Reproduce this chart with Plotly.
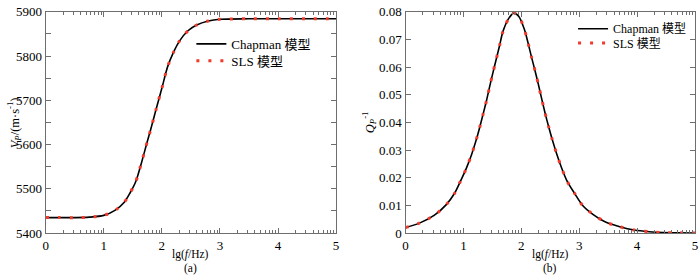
import plotly.graph_objects as go
import math

# ---------------- data ----------------
# (a) P-wave velocity vs lg(f/Hz)
lgf_a = [0.0, 0.25, 0.5, 0.75, 1.0, 1.2, 1.35, 1.45, 1.55, 1.65, 1.75, 1.8, 1.9,
         2.0, 2.1, 2.2, 2.3, 2.45, 2.6, 2.8, 3.0, 3.5, 4.0, 4.5, 5.0]
vp_chapman = [5435, 5435, 5435, 5436, 5440, 5452, 5469, 5490, 5516, 5559, 5607, 5630, 5679,
              5727, 5776, 5808, 5833, 5857, 5870, 5879, 5883, 5884, 5884, 5884, 5884]
vp_sls = [5435, 5435, 5435, 5436, 5440, 5452, 5469, 5490, 5516, 5559, 5607, 5630, 5679,
          5727, 5776, 5808, 5833, 5857, 5870, 5879, 5883, 5884, 5884, 5884, 5884]

# (b) inverse quality factor vs lg(f/Hz)
lgf_b = [0.0, 0.25, 0.5, 0.7, 0.85, 0.95, 1.05, 1.14, 1.21, 1.28, 1.34, 1.40, 1.455, 1.51,
         1.57, 1.627, 1.683, 1.786, 1.87, 1.957, 2.055, 2.118, 2.175, 2.238, 2.295, 2.351,
         2.409, 2.471, 2.534, 2.61, 2.69, 2.786, 2.916, 3.06, 3.236, 3.454, 3.7, 3.95,
         4.21, 4.45, 4.7, 5.0]
q_chapman = [0.0020, 0.0037, 0.0065, 0.0102, 0.0145, 0.0188, 0.0234, 0.0283, 0.0329, 0.0381,
             0.0430, 0.0480, 0.0531, 0.0580, 0.0631, 0.0680, 0.0729, 0.0777, 0.0795, 0.0783,
             0.0735, 0.0686, 0.0637, 0.0586, 0.0537, 0.0486, 0.0435, 0.0385, 0.0338, 0.0287,
             0.0239, 0.0190, 0.0145, 0.0100, 0.0068, 0.0040, 0.0023, 0.0011, 0.0005, 0.0002,
             0.0001, 0.00005]
q_sls = list(q_chapman)

x_ticks = [0, 1, 2, 3, 4, 5]
vp_ticks = [5400, 5500, 5600, 5700, 5800, 5900]
q_ticks = [0, 0.01, 0.02, 0.03, 0.04, 0.05, 0.06, 0.07, 0.08]
q_ticklabels = ["0", "0.01", "0.02", "0.03", "0.04", "0.05", "0.06", "0.07", "0.08"]

# ---------------- layout helpers ----------------
W, H = 700, 278
def px_x(p):
    return p / W
def px_y(p):
    return 1 - p / H

FONT = "Liberation Serif, Noto Sans CJK SC, serif"
RED = "#f03a2a"
AX = "#6e6e6e"

minor_x = [d + math.log10(k) for d in range(5) for k in range(2, 10)]

fig = go.Figure()

fig.add_trace(go.Scatter(x=lgf_a, y=vp_chapman, mode="lines", name="Chapman 模型",
                         line=dict(color="black", width=1.6, shape="spline", smoothing=0.8),
                         xaxis="x", yaxis="y", legend="legend"))
fig.add_trace(go.Scatter(x=lgf_a, y=vp_sls, mode="lines", name="SLS 模型",
                         line=dict(color=RED, width=3, dash="3px,9px", shape="spline", smoothing=0.8),
                         xaxis="x", yaxis="y", legend="legend2"))
fig.add_trace(go.Scatter(x=lgf_b, y=q_chapman, mode="lines", name="Chapman 模型",
                         line=dict(color="black", width=1.6, shape="spline", smoothing=0.8),
                         xaxis="x2", yaxis="y2", legend="legend3"))
fig.add_trace(go.Scatter(x=lgf_b, y=q_sls, mode="lines", name="SLS 模型",
                         line=dict(color=RED, width=3, dash="3px,9px", shape="spline", smoothing=0.8),
                         xaxis="x2", yaxis="y2", legend="legend4"))

common_axis = dict(showline=True, linecolor=AX, linewidth=1.2, mirror="ticks",
                   ticks="inside", ticklen=5, tickcolor=AX, tickwidth=1,
                   showgrid=False, zeroline=False, ticklabeloverflow="allow",
                   tickfont=dict(family=FONT, size=13, color="black"))

xa = dict(common_axis, range=[0, 5], tickvals=x_ticks, ticktext=[str(v) for v in x_ticks],
          minor=dict(tickvals=minor_x, ticklen=3, tickcolor=AX, ticks="inside"))

def leg(xp, yp, size):
    return dict(x=px_x(xp), y=px_y(yp), xanchor="left", yanchor="middle",
                bgcolor="rgba(0,0,0,0)", borderwidth=0,
                font=dict(family=FONT, size=size, color="black"))

fig.update_layout(
    width=W, height=H,
    margin=dict(l=0, r=0, t=0, b=0),
    paper_bgcolor="white", plot_bgcolor="white",
    font=dict(family=FONT, size=12, color="black"),
    xaxis=dict(xa, domain=[px_x(43), px_x(336)], anchor="y"),
    yaxis=dict(common_axis, domain=[px_y(239), px_y(5)], anchor="x", range=[5400, 5900],
               tickvals=vp_ticks, ticktext=[str(v) for v in vp_ticks],
               minor=dict(dtick=50, tick0=5400, ticklen=5, tickcolor=AX, ticks="inside")),
    xaxis2=dict(xa, domain=[px_x(406), px_x(698)], anchor="y2"),
    yaxis2=dict(common_axis, domain=[px_y(239), px_y(5)], anchor="x2", range=[0, 0.08],
                tickvals=q_ticks, ticktext=q_ticklabels),
    legend=leg(190, 39, 13),
    legend2=leg(190, 57, 13),
    legend3=leg(575, 23, 12),
    legend4=leg(575, 38, 12),
    showlegend=True,
)

ann_font = dict(family=FONT, size=11.5, color="black")
annotations = [
    dict(text="lg(<i>f</i>/Hz)", x=px_x(189.5), y=px_y(261.5)),
    dict(text="(a)", x=px_x(189.5), y=px_y(276)),
    dict(text="lg(<i>f</i>/Hz)", x=px_x(552), y=px_y(261.5)),
    dict(text="(b)", x=px_x(552), y=px_y(276)),
    dict(text="<i>V</i><sub><i>P</i></sub>/(m·s<sup>-1</sup>)", x=px_x(12), y=px_y(122),
         textangle=-90, font=dict(family=FONT, size=12.5, color="black")),
    dict(text="<i>Q</i><sub><i>P</i></sub><sup>-1</sup>", x=px_x(370), y=px_y(122),
         textangle=-90, font=dict(family=FONT, size=12.5, color="black")),
]
for a in annotations:
    a.setdefault("font", ann_font)
    fig.add_annotation(xref="paper", yref="paper", showarrow=False,
                       xanchor="center", yanchor="middle", **a)

fig.write_html("out.html", post_script="document.body.style.margin='0px';",
               config={"displayModeBar": False})
